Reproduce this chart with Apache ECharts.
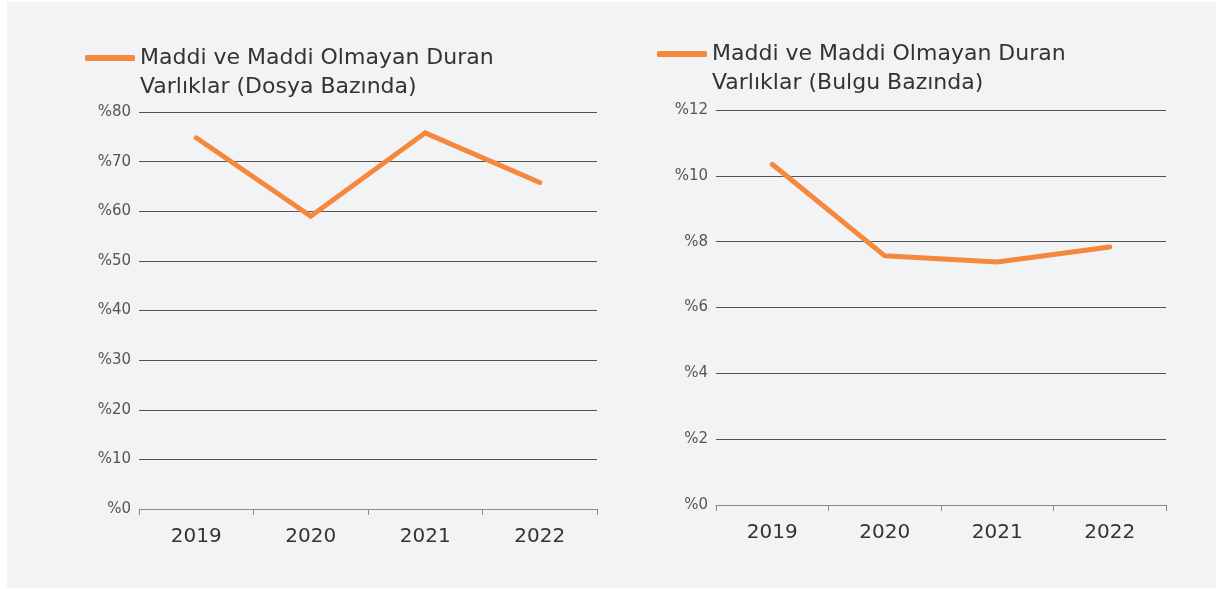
<!DOCTYPE html>
<html>
<head>
<meta charset="utf-8">
<script src="https://cdn.jsdelivr.net/npm/echarts@6/dist/echarts.min.js"></script>
<style>
  html, body { margin: 0; padding: 0; background: #ffffff; }
  #panel { position: absolute; left: 7px; top: 2px; width: 1209px; height: 586px; background: #f2f3f5; }
  #chart { position: absolute; left: 0; top: 0; width: 1217px; height: 589px; }
</style>
</head>
<body>
<div id="panel"></div>
<div id="chart"></div>
<script>
const categories = ['2019', '2020', '2021', '2022'];
const seriesNameLeft = 'Maddi ve Maddi Olmayan Duran Varlıklar (Dosya Bazında)';
const seriesNameRight = 'Maddi ve Maddi Olmayan Duran Varlıklar (Bulgu Bazında)';
const valuesLeft = [74.8, 59.0, 75.8, 65.8];
const valuesRight = [10.35, 7.57, 7.38, 7.84];
const yTicksLeft = [0, 10, 20, 30, 40, 50, 60, 70, 80];
const yTicksRight = [0, 2, 4, 6, 8, 10, 12];

const FONT = 'DejaVu Sans';
const ORANGE = '#f5883c';
const TEXT = '#333333';

// a blank first line keeps the first real line centred on the legend icon
function wrapName(name) {
  return ' \n' + name.replace(' Varlıklar', '\nVarlıklar');
}

function legendCfg(name, left, top) {
  return {
    data: [name],
    left: left,
    top: top,
    padding: 0,
    icon: 'roundRect',
    itemWidth: 50,
    itemHeight: 6,
    itemGap: 0,
    selectedMode: false,
    itemStyle: { color: ORANGE },
    formatter: wrapName,
    textStyle: {
      fontFamily: FONT,
      fontSize: 22,
      color: TEXT,
      lineHeight: 29
    }
  };
}

function xAxisCfg(gridIndex) {
  return {
    type: 'category',
    gridIndex: gridIndex,
    data: categories,
    boundaryGap: true,
    axisLine: { show: true, lineStyle: { color: '#8a8a8a', width: 1 } },
    axisTick: { show: true, length: 6, lineStyle: { color: '#8a8a8a' } },
    axisLabel: { fontFamily: FONT, fontSize: 20, color: TEXT, margin: 18 },
    splitLine: { show: false }
  };
}

function yAxisCfg(gridIndex, ticks) {
  const step = ticks[1] - ticks[0];
  return {
    type: 'value',
    gridIndex: gridIndex,
    min: ticks[0],
    max: ticks[ticks.length - 1],
    interval: step,
    axisLine: { show: false },
    axisTick: { show: false },
    axisLabel: {
      fontFamily: FONT, fontSize: 15, color: '#555555', margin: 8,
      formatter: v => '%' + v
    },
    splitLine: { show: true, lineStyle: { color: '#555555', width: 1 } }
  };
}

const chart = echarts.init(document.getElementById('chart'), null, { renderer: 'canvas' });
chart.setOption({
  backgroundColor: 'transparent',
  animation: false,
  legend: [
    legendCfg(seriesNameLeft, 85, 14.5),
    legendCfg(seriesNameRight, 657, 10.5)
  ],
  grid: [
    { left: 139, top: 112, width: 458, height: 397 },
    { left: 716, top: 110, width: 450, height: 395 }
  ],
  xAxis: [xAxisCfg(0), xAxisCfg(1)],
  yAxis: [yAxisCfg(0, yTicksLeft), yAxisCfg(1, yTicksRight)],
  series: [
    {
      name: seriesNameLeft, type: 'line', xAxisIndex: 0, yAxisIndex: 0,
      data: valuesLeft, symbol: 'none', smooth: false,
      lineStyle: { color: ORANGE, width: 5, cap: 'round', join: 'miter' },
      itemStyle: { color: ORANGE }
    },
    {
      name: seriesNameRight, type: 'line', xAxisIndex: 1, yAxisIndex: 1,
      data: valuesRight, symbol: 'none', smooth: false,
      lineStyle: { color: ORANGE, width: 5, cap: 'round', join: 'miter' },
      itemStyle: { color: ORANGE }
    }
  ]
});
</script>
</body>
</html>
